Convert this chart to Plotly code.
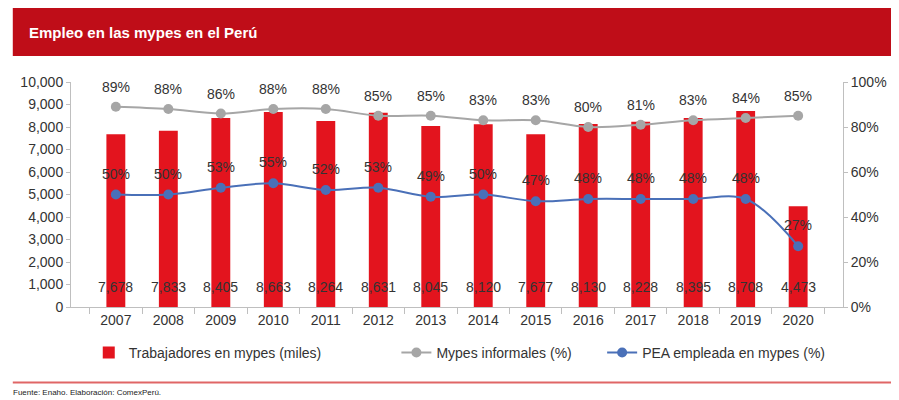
import plotly.graph_objects as go

years = ["2007", "2008", "2009", "2010", "2011", "2012", "2013",
         "2014", "2015", "2016", "2017", "2018", "2019", "2020"]
trabajadores = [7678, 7833, 8405, 8663, 8264, 8631, 8045,
                8120, 7677, 8130, 8228, 8395, 8708, 4473]
informales = [89, 88, 86, 88, 88, 85, 85, 83, 83, 80, 81, 83, 84, 85]
pea = [50, 50, 53, 55, 52, 53, 49, 50, 47, 48, 48, 48, 48, 27]

FONT = "Liberation Sans, Arial, sans-serif"
RED = "#E3141E"
GRAY = "#A6A6A6"
BLUE = "#4A70B8"
TXT = "#333333"
AXIS = "#BFBFBF"

fig = go.Figure()

fig.add_trace(go.Bar(
    x=years, y=trabajadores,
    name="Trabajadores en mypes (miles)",
    marker=dict(color=RED, line_width=0),
    width=0.36,
    legend="legend",
))

fig.add_trace(go.Scatter(
    x=years, y=informales, yaxis="y2",
    name="Mypes informales (%)",
    mode="lines+markers",
    line=dict(color=GRAY, width=2, shape="spline"),
    marker=dict(color=GRAY, size=10),
    legend="legend2",
))

fig.add_trace(go.Scatter(
    x=years, y=pea, yaxis="y2",
    name="PEA empleada en mypes (%)",
    mode="lines+markers",
    line=dict(color=BLUE, width=2, shape="spline"),
    marker=dict(color=BLUE, size=10),
    legend="legend3",
))

# value labels (category axis: annotations positioned by category index)
label_font = dict(family=FONT, size=14, color=TXT)
for i, v in enumerate(trabajadores):
    fig.add_annotation(x=i, y=0, text=f"{v:,}", showarrow=False,
                       yshift=20, font=label_font)
for i, v in enumerate(informales):
    fig.add_annotation(x=i, y=v, yref="y2", text=f"{v}%", showarrow=False,
                       yshift=20, font=label_font)
for i, v in enumerate(pea):
    fig.add_annotation(x=i, y=v, yref="y2", text=f"{v}%", showarrow=False,
                       yshift=21, font=label_font)

# title banner
fig.add_shape(type="rect", xref="paper", yref="paper",
              x0=-0.0754, x1=1.1, y0=1.1156, y1=1.329,
              fillcolor="#BF0D18", line_width=0, layer="below")
fig.add_annotation(xref="paper", yref="paper", x=-0.0575, y=1.218,
                   xanchor="left", yanchor="middle", showarrow=False,
                   text="<b>Empleo en las mypes en el Perú</b>",
                   font=dict(family=FONT, size=15, color="white"))
# bottom rule and source
fig.add_shape(type="line", xref="paper", yref="paper",
              x0=-0.0754, x1=1.1, y0=-0.336, y1=-0.336,
              line=dict(color="#E06666", width=2))
fig.add_annotation(xref="paper", yref="paper", x=-0.0779, y=-0.382,
                   xanchor="left", yanchor="middle", showarrow=False,
                   text="Fuente: Enaho. Elaboración: ComexPerú.",
                   font=dict(family=FONT, size=8, color="#222222"))

leg = dict(orientation="h", y=-0.204, yanchor="middle",
           xanchor="left", font=dict(size=14, color=TXT),
           itemwidth=30, bgcolor="rgba(0,0,0,0)")

fig.update_layout(
    width=891, height=392,
    margin=dict(l=61, r=47, t=74, b=93),
    paper_bgcolor="white", plot_bgcolor="white",
    font=dict(family=FONT, size=14, color=TXT),
    xaxis=dict(type="category", showline=True, linecolor=AXIS, linewidth=1,
               ticks="outside", tickson="boundaries", ticklen=6,
               tickcolor=AXIS, showgrid=False,
               tickfont=dict(size=14, color=TXT)),
    yaxis=dict(range=[0, 10000], dtick=1000, tickformat=",",
               showline=True, linecolor=AXIS, ticks="outside",
               ticklen=4, tickcolor=AXIS, showgrid=False, zeroline=False,
               tickfont=dict(size=14, color=TXT)),
    yaxis2=dict(range=[0, 100], dtick=20, ticksuffix="%",
                overlaying="y", side="right",
                showline=True, linecolor=AXIS, ticks="outside",
                ticklen=4, tickcolor=AXIS, showgrid=False, zeroline=False,
                tickfont=dict(size=14, color=TXT)),
    legend=dict(leg, x=0.023),
    legend2=dict(leg, x=0.4215),
    legend3=dict(leg, x=0.688),
    showlegend=True,
)

fig.write_html("out.html")
